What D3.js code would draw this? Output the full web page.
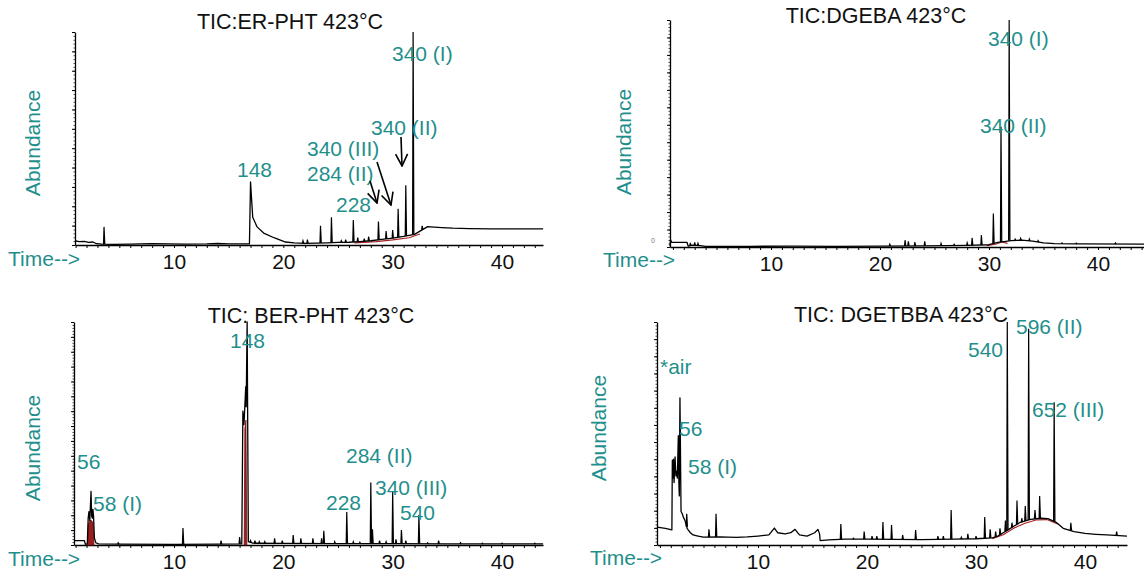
<!DOCTYPE html>
<html><head><meta charset="utf-8">
<script src="https://cdn.jsdelivr.net/npm/d3@7"></script>
<style>
body{margin:0;background:#fff}
svg{display:block}
text{font-family:"Liberation Sans",Arial,sans-serif}
</style></head><body>
<svg id="c" width="1144" height="585"></svg>
<script>
// ---- chromatogram data: [retention time (min), relative abundance (% of full scale)] ----
const xTickLabels = [10, 20, 30, 40];

// TIC:ER-PHT 423°C
const erphtTrace = [[0.94,2.0],[1.3,1.6],[1.8,1.7],[2.2,1.2],[2.6,1.4],[2.9,0.6],[3.4,0.4],[4.5,0.3],[6,0.4],[8,0.6],[9.5,0.5],[11,0.4],[13,0.5],[14,0.7],[15,0.5],[16.9,0.5],
  [17.0,29.6],[17.2,13],[17.6,8.5],[18.2,5.6],[19.2,3.3],[20.2,1.4],[21,1.0],[22,0.8],[23,0.9],[24,1.0],[25,1.2],[26,1.3],[27,1.6],[28,2.0],[29,2.6],[30,3.2],[31,4.0],[32,5.0],[32.5,6.5],[33.2,8.6],[33.8,8.4],[34.5,8.2],[35.5,7.9],[37,7.7],[39,7.6],[41,7.6],[43.76,7.6]];
const erphtPeaks = [[3.6,8.5],[21.8,2],[22.2,2.5],[23.4,9],[24.4,13],[25.3,2],[25.7,2.5],[26.4,11.7],[26.8,3.5],[27.4,3],[27.8,4],[28.7,11],[29.4,6.5],[30.0,7],[30.5,17],[31.2,28],[31.87,100],[32.7,9]];
const erphtIntegration = [[26.5,1.0],[28.5,1.6],[30,2.4],[31.5,3.4],[32.5,5.2]];

// TIC:DGEBA 423°C
const dgebaTrace = [[0.73,0.3],[0.78,3.2],[0.9,2.0],[2.3,2.0],[2.4,0.4],[2.8,0.8],[3.5,0.6],[4,0.3],[8,0.3],[12,0.4],[16,0.3],[20,0.4],[24,0.5],[28,0.7],[30,1.0],[30.8,2.0],[31.4,2.4],[32,2.8],[33,3.0],[34,2.6],[35,1.8],[36,1.5],[38,1.4],[44.22,1.3]];
const dgebaPeaks = [[2.6,1.8],[3.0,2.0],[3.3,1.6],[20.9,1.2],[22.3,3],[22.6,2.5],[23.2,2.2],[24.1,2.5],[25.6,1.6],[26.8,1.2],[28.0,1.8],[28.45,4],[29.3,5.3],[30.4,14.7],[31.1,53],[31.85,100],[32.4,3.5],[32.9,3.8],[33.7,3.5],[34.5,2.8],[36.7,1.8],[38,1.7],[41.6,1.8]];
const dgebaIntegration = [[29.8,0.6],[30.6,1.2],[31.2,2.2],[31.7,1.6]];

// TIC: BER-PHT 423°C
const berphtTrace = [[0.85,2],[1.8,2],[1.9,0.3],[2.07,0.5],[2.15,12],[2.22,15],[2.3,11],[2.41,24],[2.47,13],[2.53,12],[2.58,16],[2.64,13],[2.72,3],[2.85,1],[3.1,0.5],[5,0.4],[10,0.3],[14,0.4],[16.2,0.5],[16.3,60],[16.4,54],[16.56,71],[16.6,62],[16.69,100],[16.8,1.5],[17.2,0.8],[20,0.7],[25,0.6],[30,0.6],[35,0.5],[43.76,0.5]];
const berphtPeaks = [[4.9,1],[10.82,7.6],[14.3,2],[16.0,3.6],[17.0,2],[17.4,2],[17.8,1.5],[18.3,1.5],[19.2,3],[19.9,2],[20.9,4.5],[21.6,3],[22.7,3],[23.5,3],[23.7,6.4],[24.7,1.5],[25.8,14.8],[26.4,1.5],[27,1.2],[28.0,28],[28.15,7],[28.8,2],[29.4,1.5],[30.0,24],[30.3,2.5],[30.8,6.7],[31.2,2],[32.4,13.5],[33.2,1],[34.2,2],[36.2,1],[38.2,0.8],[40,0.8],[43,0.8]];
const berphtAreas = [
  [[2.1,0],[2.16,9],[2.3,11],[2.45,11],[2.6,10],[2.68,0]],
  [[16.42,0],[16.48,52],[16.58,56],[16.66,0]]
];

// TIC: DGETBBA 423°C
const dgetbbaTrace = [[0.73,8],[1.5,7.5],[2.1,6.8],[2.14,38],[2.2,30],[2.25,38.5],[2.3,28],[2.39,39.5],[2.47,31],[2.54,33],[2.6,30],[2.69,49],[2.74,28],[2.78,22],[2.84,66],[2.94,15],[3.05,14],[3.15,12.5],[3.3,11],[3.5,7.5],[3.61,6.7],[3.8,5.5],[4.04,4.5],[4.5,4],[5,3.5],[6.5,3.6],[8,3.4],[9,3.6],[10,4],[11,4.5],[11.5,7.6],[11.8,5.5],[12.5,5],[13,5.5],[13.4,7],[13.8,4.5],[14.5,4],[15.2,5.5],[15.5,7],[15.65,5],[15.7,2],[16.5,2.3],[18,2.6],[20,2.6],[25,2.4],[28,2.6],[30,2.8],[31.5,3.2],[32,4],[32.5,5.5],[33,7],[33.5,8.5],[34,10],[35,11.5],[36,12],[36.6,11.8],[37.4,10],[38,7.5],[39,6],[40,5.2],[41,4.8],[42,4.5],[43.85,4]];
const dgetbbaPeaks = [[3.46,14],[5.5,7],[6.15,14],[17.6,9.4],[18.75,3],[19.74,6],[20.46,4],[20.9,4],[21.46,10.3],[22.25,9],[23.27,4.5],[24.46,6.7],[26.5,4],[27.0,4],[27.72,15.7],[28.65,3.5],[29.25,5],[30.0,4],[30.8,12.5],[31.3,7],[31.8,6],[32.2,7.5],[32.7,11],[32.87,100],[33.3,10],[33.76,20],[34.2,12],[34.52,17.5],[34.83,97],[35.41,15.7],[35.84,22],[37.17,64],[38.7,10],[42.9,6]];
const dgetbbaIntegration = [[31.5,2.8],[32.5,4.6],[33.5,7.6],[34.5,9.8],[35.5,11.2],[36.5,11.4],[37.5,9.4]];

// ---- annotation texts ----
const erphtLabels = [["340 (I)",392,53],["340 (II)",371,127],["340 (III)",307,148],["284 (II)",307,173],["228",336,204],["148",237,169]];
const dgebaLabels = [["340 (I)",988,38],["340 (II)",980,125]];
const berphtLabels = [["56",77,461],["58 (I)",93,503],["148",230,340],["284 (II)",346,455],["340 (III)",375,487],["228",326,502],["540",400,512]];
const dgetbbaLabels = [["*air",660,366],["56",679,428],["58 (I)",688,466],["540",968,349],["596 (II)",1016,326],["652 (III)",1032,409]];
const erphtArrows = [[[401,137],[402,166]],[[377,162],[391,205]],[[370,181],[377,203]]];

const TEAL = "#1f8f8c";
const FS = 21;
const svg = d3.select("#c");

svg.append("defs").append("marker")
  .attr("id","vhead").attr("viewBox","0 0 14 14").attr("refX",13).attr("refY",7)
  .attr("markerWidth",14).attr("markerHeight",14).attr("markerUnits","userSpaceOnUse")
  .attr("orient","auto")
  .append("path").attr("d","M1,1 L13,7 L1,13").attr("fill","none").attr("stroke","#000").attr("stroke-width",1.6);

function panel(cfg){
  const g = svg.append("g");
  // time axis anchored on the 10 and 40 min tick positions
  const x = d3.scaleLinear().domain([10,40]).range([cfg.x10, cfg.x40]);
  x.domain([x.invert(cfg.left), x.invert(cfg.right)]).range([cfg.left, cfg.right]);
  const y = d3.scaleLinear().domain([0,100]).range([cfg.bottom, cfg.top]);

  // y axis: ruler-like ticks
  const step = 100/cfg.yDiv;
  g.append("g").attr("transform",`translate(${cfg.left},0)`)
    .call(d3.axisLeft(y).tickValues(d3.range(0,100+1e-6,step/5)).tickSize(1.5).tickFormat("").tickSizeOuter(0))
    .call(a=>a.selectAll("line").attr("stroke","#444"))
    .call(a=>a.select(".domain").attr("stroke","#000").attr("stroke-width",1.3));
  g.append("g").attr("transform",`translate(${cfg.left},0)`)
    .call(d3.axisLeft(y).tickValues(d3.range(0,100+1e-6,step)).tickSize(3).tickFormat("").tickSizeOuter(0))
    .call(a=>a.select(".domain").remove())
    .call(a=>a.selectAll("line").attr("stroke","#000"));

  // x axis: minute ticks, labelled every 10 min
  const d0 = x.domain();
  const minutes = d3.range(Math.ceil(d0[0]), Math.floor(d0[1])+1);
  g.append("g").attr("transform",`translate(0,${cfg.bottom})`)
    .call(d3.axisBottom(x).tickValues(minutes).tickSize(3).tickPadding(6).tickSizeOuter(0)
      .tickFormat(d => xTickLabels.includes(d) ? d : ""))
    .call(a=>a.select(".domain").attr("stroke","#000").attr("stroke-width",1.3))
    .call(a=>a.selectAll("line").attr("stroke","#000"))
    .call(a=>a.selectAll("text").attr("font-size",FS).attr("fill","#111").attr("font-family","Liberation Sans, Arial, sans-serif"));

  const line = d3.line().x(d=>x(d[0])).y(d=>y(d[1]));
  const base = d3.scaleLinear().domain(cfg.trace.map(d=>d[0])).range(cfg.trace.map(d=>d[1])).clamp(true);

  // integrated areas (filled)
  (cfg.areas||[]).forEach(a=>{
    g.append("path").attr("d", line(a)+"Z").attr("fill","#9b1d1d").attr("stroke","#7a1010").attr("stroke-width",0.8);
  });
  // integration baseline
  if (cfg.integration) g.append("path").attr("d", line(cfg.integration)).attr("fill","none").attr("stroke","#a82020").attr("stroke-width",1.1);

  // trace
  g.append("path").attr("d", line(cfg.trace)).attr("fill","none").attr("stroke","#000").attr("stroke-width",1.3).attr("stroke-linejoin","round");
  // spike peaks
  g.append("g").selectAll("path").data(cfg.peaks).join("path")
    .attr("d", d => { const b = base(d[0]); return line([[d[0]-0.05,b],[d[0],d[1]],[d[0]+0.07,b]]); })
    .attr("fill","none").attr("stroke","#000").attr("stroke-width",1.2).attr("stroke-linejoin","miter");

  // texts
  g.append("text").attr("x",cfg.titleX).attr("y",cfg.titleY).attr("text-anchor","middle").attr("dominant-baseline","central")
    .attr("font-size",21.5).attr("fill","#111").text(cfg.title);
  g.append("text").attr("transform",`translate(${cfg.abX},${cfg.abY}) rotate(-90)`).attr("text-anchor","middle").attr("dominant-baseline","central")
    .attr("font-size",FS).attr("fill",TEAL).text("Abundance");
  g.append("text").attr("x",cfg.timeX).attr("y",cfg.timeY).attr("dominant-baseline","central")
    .attr("font-size",FS).attr("fill",TEAL).text("Time-->");
  g.append("g").selectAll("text").data(cfg.labels).join("text")
    .attr("x",d=>d[1]).attr("y",d=>d[2]).attr("dominant-baseline","central")
    .attr("font-size",FS).attr("fill",TEAL).text(d=>d[0]);
  (cfg.arrows||[]).forEach(a=>{
    g.append("line").attr("x1",a[0][0]).attr("y1",a[0][1]).attr("x2",a[1][0]).attr("y2",a[1][1])
      .attr("stroke","#000").attr("stroke-width",1.6).attr("marker-end","url(#vhead)");
  });
  return g;
}

panel({left:75,right:543,top:32,bottom:245,x10:174,x40:502,yDiv:11,
  trace:erphtTrace,peaks:erphtPeaks,integration:erphtIntegration,
  title:"TIC:ER-PHT 423°C",titleX:290,titleY:22,abX:32,abY:143,timeX:8,timeY:258,
  labels:erphtLabels,arrows:erphtArrows});

const tr = panel({left:670,right:1144,top:20,bottom:247,x10:771,x40:1098,yDiv:13,
  trace:dgebaTrace,peaks:dgebaPeaks,integration:dgebaIntegration,
  title:"TIC:DGEBA 423°C",titleX:876,titleY:16,abX:623,abY:142,timeX:603,timeY:259,
  labels:dgebaLabels});
tr.append("text").attr("x",651).attr("y",243).attr("font-size",7).attr("fill","#777").text("0");

panel({left:74,right:543,top:322,bottom:545,x10:174,x40:502,yDiv:15,
  trace:berphtTrace,peaks:berphtPeaks,areas:berphtAreas,
  title:"TIC: BER-PHT 423°C",titleX:311,titleY:316,abX:32,abY:448,timeX:8,timeY:558,
  labels:berphtLabels});

panel({left:657,right:1127,top:322,bottom:545,x10:758,x40:1085,yDiv:13,
  trace:dgetbbaTrace,peaks:dgetbbaPeaks,integration:dgetbbaIntegration,
  title:"TIC: DGETBBA 423°C",titleX:901,titleY:315,abX:598,abY:428,timeX:590,timeY:557,
  labels:dgetbbaLabels});
</script>
</body></html>
